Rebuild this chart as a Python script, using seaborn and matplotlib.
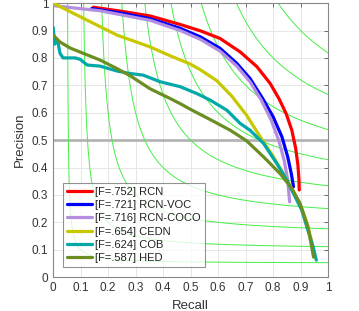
import numpy as np
import pandas as pd
import matplotlib
matplotlib.use("Agg")
import matplotlib.pyplot as plt
import seaborn as sns

# Precision-recall curves
rcn_r = [0.146, 0.25, 0.353, 0.462, 0.535, 0.607, 0.68, 0.741, 0.789, 0.822, 0.848, 0.868,
         0.882, 0.89, 0.894, 0.895]
rcn_p = [0.985, 0.97, 0.953, 0.922, 0.899, 0.871, 0.822, 0.768, 0.707, 0.65, 0.595, 0.536,
         0.47, 0.41, 0.355, 0.318]

voc_r = [0.14, 0.25, 0.353, 0.462, 0.535, 0.607, 0.668, 0.716, 0.763, 0.80, 0.832, 0.853,
         0.866, 0.874]
voc_p = [0.98, 0.963, 0.943, 0.908, 0.877, 0.835, 0.78, 0.725, 0.65, 0.585, 0.512, 0.439,
         0.378, 0.33]

coco_r = [0.007, 0.171, 0.353, 0.462, 0.535, 0.607, 0.668, 0.716, 0.757, 0.793, 0.82, 0.84,
          0.853, 0.86]
coco_p = [0.99, 0.972, 0.937, 0.9, 0.868, 0.825, 0.77, 0.713, 0.646, 0.573, 0.5, 0.427,
          0.354, 0.275]

cedn_r = [0.0, 0.109, 0.233, 0.353, 0.425, 0.498, 0.535, 0.595, 0.65, 0.704, 0.753, 0.801,
          0.844, 0.88, 0.906, 0.925, 0.938, 0.947]
cedn_p = [1.0, 0.945, 0.883, 0.84, 0.808, 0.778, 0.757, 0.717, 0.66, 0.59, 0.512, 0.439,
          0.366, 0.30, 0.245, 0.19, 0.14, 0.09]

cob_r = [0.0, 0.006, 0.012, 0.018, 0.025, 0.036, 0.08, 0.098, 0.124, 0.171, 0.233, 0.28,
         0.328, 0.389, 0.462, 0.522, 0.571, 0.632, 0.68, 0.716, 0.765, 0.813, 0.85, 0.88,
         0.904, 0.923, 0.946, 0.957]
cob_p = [0.912, 0.85, 0.87, 0.854, 0.817, 0.80, 0.80, 0.795, 0.774, 0.77, 0.752, 0.743,
         0.737, 0.713, 0.695, 0.67, 0.646, 0.609, 0.561, 0.536, 0.488, 0.415, 0.354, 0.293,
         0.245, 0.182, 0.109, 0.062]

hed_r = [0.0, 0.025, 0.062, 0.171, 0.23, 0.28, 0.353, 0.425, 0.462, 0.498, 0.571, 0.644,
         0.704, 0.765, 0.825, 0.868, 0.898, 0.927, 0.947]
hed_p = [0.883, 0.858, 0.836, 0.792, 0.762, 0.735, 0.687, 0.652, 0.633, 0.613, 0.575, 0.536,
         0.497, 0.439, 0.378, 0.324, 0.269, 0.182, 0.073]

labels = ["[F=.752] RCN", "[F=.721] RCN-VOC", "[F=.716] RCN-COCO",
          "[F=.654] CEDN", "[F=.624] COB", "[F=.587] HED"]
colors = ["#ff0000", "#0000ff", "#b48ee0", "#c8c800", "#00a8a8", "#6b8e23"]
series = [(rcn_r, rcn_p), (voc_r, voc_p), (coco_r, coco_p),
          (cedn_r, cedn_p), (cob_r, cob_p), (hed_r, hed_p)]

frames = []
for lab, (r, p) in zip(labels, series):
    frames.append(pd.DataFrame({"Recall": r, "Precision": p, "method": lab}))
df = pd.concat(frames, ignore_index=True)

sns.set_style("white")
plt.rcParams["font.family"] = ["Liberation Sans", "DejaVu Sans"]

fig = plt.figure(figsize=(3.59, 3.11), dpi=100)
ax = fig.add_axes([0.148, 0.109, 0.766, 0.881])

# iso-F contours
g = np.linspace(0.005, 1, 400)
R, P = np.meshgrid(g, g)
F = 2 * P * R / (P + R)
ax.contour(R, P, F, levels=np.arange(0.1, 1.0, 0.1), colors="#44ee44", linewidths=0.7)

ax.axhline(0.5, color="#b4b4b4", lw=2, zorder=1)

sns.lineplot(data=df, x="Recall", y="Precision", hue="method", palette=colors,
             sort=False, estimator=None, lw=2.3, ax=ax, zorder=3)

ax.set_xlim(0, 1)
ax.set_ylim(0, 1)
ticks = np.round(np.arange(0, 1.01, 0.1), 1)
ticklabels = ["0"] + [f"{t:g}" for t in ticks[1:-1]] + ["1"]
ax.set_xticks(ticks)
ax.set_yticks(ticks)
ax.set_xticklabels(ticklabels)
ax.set_yticklabels(ticklabels)
ax.grid(True, color="#e6e6e6", lw=0.7)
ax.tick_params(direction="in", length=3, top=True, right=True, labelsize=8.5,
               colors="#555555", labelcolor="#333333", width=0.6)
for s in ax.spines.values():
    s.set_color("#888888")
    s.set_linewidth(0.8)
ax.set_xlabel("Recall", fontsize=9.5, color="#333333")
ax.set_ylabel("Precision", fontsize=9.5, color="#333333")

leg = ax.legend(loc="lower left", bbox_to_anchor=(0.036, 0.036), fontsize=8, frameon=True,
                fancybox=False, edgecolor="#777777", borderpad=0.35, labelspacing=0.3,
                handlelength=2.3, handletextpad=0.25, borderaxespad=0)
leg.get_frame().set_linewidth(0.8)
for t in leg.get_texts():
    t.set_color("#222222")

fig.savefig("out.png", dpi=100)
